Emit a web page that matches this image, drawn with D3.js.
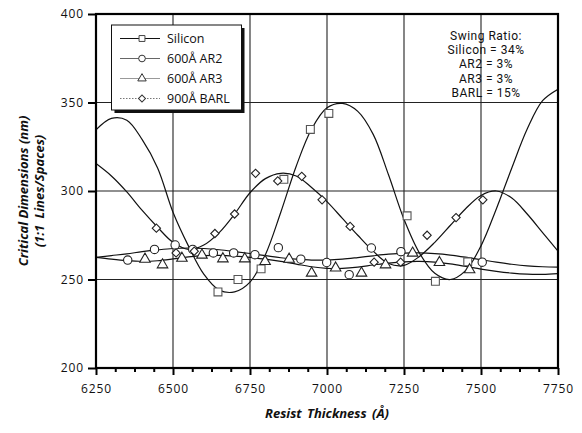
<!DOCTYPE html>
<html>
<head>
<meta charset="utf-8">
<script src="https://cdn.jsdelivr.net/npm/d3@7/dist/d3.min.js"></script>
<style>
  html, body { margin: 0; padding: 0; background: #fff; }
  svg { display: block; font-family: "Open Sans", "Noto Sans", sans-serif; }
</style>
</head>
<body>
<svg id="chart" width="582" height="433"></svg>
<script>
// ---- Measured CD points (resist thickness in Å, CD in nm) ----
const siliconPts = [
  [6646, 243], [6711, 250], [6786, 256], [6860, 306.6], [6946, 334.8],
  [7006, 343.8], [7260, 286], [7352, 249], [7457, 260]
];
const ar2Pts = [
  [6353, 261], [6440, 267], [6507, 269.5], [6564, 267], [6631, 265],
  [6697, 265], [6766, 264], [6842, 268], [6915, 261.5], [6999, 259.6],
  [7072, 252.7], [7144, 267.8], [7240, 265.7], [7504, 259.8]
];
const ar3Pts = [
  [6409, 261.5], [6466, 258.3], [6529, 262], [6594, 263.8], [6662, 261.7],
  [6733, 261.7], [6799, 260.2], [6877, 261.5], [6950, 253.6], [7028, 256.5],
  [7112, 253.6], [7190, 258.3], [7278, 264.9], [7365, 259.6], [7463, 255.5]
];
const barlPts = [
  [6446, 279], [6510, 265], [6569, 266], [6636, 276], [6700, 287],
  [6768, 310], [6840, 305.7], [6918, 308.3], [6984, 295], [7075, 280],
  [7153, 259.8], [7239, 259.8], [7325, 275], [7419, 285], [7506, 295]
];

// ---- Fitted swing curves, sampled every 50 Å from 6250 to 7750 ----
const curveThickness = [
  6250, 6300, 6350, 6400, 6450, 6500, 6550, 6600, 6650, 6700, 6750,
  6800, 6850, 6900, 6950, 7000, 7050, 7100, 7150, 7200, 7250,
  7300, 7350, 7400, 7450, 7500, 7550, 7600, 7650, 7700, 7750
];
const siliconFit = [
  334.5, 341, 340, 329, 313, 288, 269, 253, 244, 243, 248.5,
  264, 288, 314, 335, 347, 349.5, 345, 332, 309, 284,
  265, 253.5, 250, 255, 269, 290, 313, 335, 351, 357.5
];
const ar2Fit = [
  262.5, 263.5, 264.5, 265.7, 266.7, 267.5, 267.8, 267.5, 266.8, 265.8, 264.7,
  263.5, 262.3, 261.5, 261, 261, 261.5, 262.4, 263.4, 264.3, 264.9,
  265, 264.6, 263.8, 262.6, 261.2, 259.8, 258.6, 257.7, 257.2, 257
];
const ar3Fit = [
  262.5, 261.5, 260.7, 260.3, 260.6, 261.6, 262.8, 263.5, 263.6, 263.2, 262.5,
  261.5, 260.2, 258.7, 257.2, 256.3, 256.3, 257, 258.2, 259.3, 260,
  260.2, 259.8, 258.8, 257.4, 255.9, 254.6, 253.6, 253, 252.9, 253.3
];
const barlFit = [
  315.5, 308.5, 299.5, 289, 279.5, 271, 267, 269.5, 276.5, 287, 299,
  307, 310, 308.5, 302, 294, 284.5, 275, 266, 259, 258,
  263, 271, 280.5, 290, 297.5, 300, 296, 287, 276.5, 266
];

// ---- Axis ticks and labels ----
const xTicks = [6250, 6500, 6750, 7000, 7250, 7500, 7750];
const xMinorTicks = d3.range(6250, 7750.1, 62.5).filter(v => !xTicks.includes(v));
const yTicks = [200, 250, 300, 350, 400];
const xGrid = [6500, 6750, 7000, 7250, 7500];
const yGrid = [250, 300, 350];
const seriesNames = ["Silicon", "600Å AR2", "600Å AR3", "900Å BARL"];
const swingLines = ["Swing Ratio:", "Silicon = 34%", "AR2 = 3%", "AR3 = 3%", "BARL = 15%"];

const svg = d3.select("#chart");
const L = 96, R = 558, T = 14, B = 368;

const x = d3.scaleLinear().domain([6250, 7750]).range([L, R]);
const y = d3.scaleLinear().domain([200, 400]).range([B, T]);

svg.append("defs").append("clipPath").attr("id", "plotClip")
  .append("rect").attr("x", L).attr("y", T).attr("width", R - L).attr("height", B - T);

// grid
svg.append("g").selectAll("line").data(xGrid).join("line")
  .attr("x1", d => x(d)).attr("x2", d => x(d)).attr("y1", T).attr("y2", B)
  .attr("stroke", "#222").attr("stroke-width", 1.1);
svg.append("g").selectAll("line").data(yGrid).join("line")
  .attr("y1", d => y(d)).attr("y2", d => y(d)).attr("x1", L).attr("x2", R)
  .attr("stroke", "#222").attr("stroke-width", 1.1);

// axes
const xAxis = svg.append("g").attr("transform", `translate(0,${B})`)
  .call(d3.axisBottom(x).tickValues(xTicks).tickSize(7).tickPadding(9.5).tickFormat(d3.format("d")));
const xMinor = svg.append("g").attr("transform", `translate(0,${B})`)
  .call(d3.axisBottom(x).tickValues(xMinorTicks).tickSize(4).tickFormat(""));
const yAxis = svg.append("g").attr("transform", `translate(${L},0)`)
  .call(d3.axisLeft(y).tickValues(yTicks).tickSize(8).tickPadding(4).tickFormat(d3.format("d")));

[xAxis, xMinor, yAxis].forEach(g => {
  g.select(".domain").remove();
  g.selectAll(".tick line").attr("stroke", "#000").attr("stroke-width", 2);
  g.selectAll(".tick text").attr("fill", "#111").style("font-size", "12px")
    .style("letter-spacing", "0.9px").style("font-family", "'Open Sans', sans-serif");
});

// curves
const lineGen = d3.line().x(d => x(d[0])).y(d => y(d[1])).curve(d3.curveCatmullRom);
const fits = [siliconFit, ar2Fit, ar3Fit, barlFit];
const curves = svg.append("g").attr("clip-path", "url(#plotClip)");
fits.forEach(vals => {
  curves.append("path")
    .datum(curveThickness.map((t, i) => [t, vals[i]]))
    .attr("d", lineGen).attr("fill", "none")
    .attr("stroke", "#111").attr("stroke-width", 1.2);
});

// marker shapes; the diamond is a square turned by 45 degrees
const shapes = {
  square:   { path: d3.symbol().type(d3.symbolSquare).size(62)(),   rot: 0 },
  circle:   { path: d3.symbol().type(d3.symbolCircle).size(55)(),   rot: 0 },
  triangle: { path: d3.symbol().type(d3.symbolTriangle).size(48)(), rot: 0 },
  diamond:  { path: d3.symbol().type(d3.symbolSquare).size(34)(),   rot: 45 }
};
function drawMarkers(g, pts, shape, color) {
  const s = shapes[shape];
  g.selectAll(null).data(pts).join("path")
    .attr("transform", d => `translate(${x(d[0])},${y(d[1])}) rotate(${s.rot})`)
    .attr("d", s.path).attr("fill", "#fff")
    .attr("stroke", color).attr("stroke-width", 1.1);
}
const marks = svg.append("g");
drawMarkers(marks, siliconPts, "square", "#555");
drawMarkers(marks, ar2Pts, "circle", "#222");
drawMarkers(marks, ar3Pts, "triangle", "#222");
drawMarkers(marks, barlPts, "diamond", "#222");

// plot frame
svg.append("rect").attr("x", L).attr("y", T).attr("width", R - L).attr("height", B - T)
  .attr("fill", "none").attr("stroke", "#000").attr("stroke-width", 2.2);

// legend with drop shadow
const lg = svg.append("g");
lg.append("rect").attr("x", 114.5).attr("y", 28).attr("width", 130).attr("height", 85).attr("fill", "#111");
lg.append("rect").attr("x", 111.5).attr("y", 25).attr("width", 130).attr("height", 85)
  .attr("fill", "#fff").attr("stroke", "#111").attr("stroke-width", 1);
const legendStyle = [
  { shape: "square",   stroke: "#111", dash: null,      w: 1.2, mk: "#444", size: 0.75 },
  { shape: "circle",   stroke: "#666", dash: null,      w: 1,   mk: "#333", size: 0.8 },
  { shape: "triangle", stroke: "#999", dash: null,      w: 1,   mk: "#333", size: 0.8 },
  { shape: "diamond",  stroke: "#777", dash: "1.5,1.5", w: 1,   mk: "#333", size: 0.85 }
];
seriesNames.forEach((name, i) => {
  const cy = 38.5 + i * 20;
  const st = legendStyle[i];
  const s = shapes[st.shape];
  lg.append("line").attr("x1", 120).attr("x2", 160).attr("y1", cy).attr("y2", cy)
    .attr("stroke", st.stroke).attr("stroke-width", st.w)
    .attr("stroke-dasharray", st.dash);
  lg.append("path").attr("transform", `translate(142,${cy}) rotate(${s.rot}) scale(${st.size})`)
    .attr("d", s.path).attr("fill", "#fff").attr("stroke", st.mk)
    .attr("stroke-width", 1 / st.size);
  lg.append("text").attr("x", 167).attr("y", cy).attr("dy", "0.36em")
    .style("font-size", "12.5px").attr("fill", "#111").text(name);
});

// swing ratio note, one text per line
svg.append("g").selectAll("text").data(swingLines).join("text")
  .attr("x", 486).attr("y", (d, i) => 40 + i * 14.2)
  .attr("text-anchor", "middle")
  .style("font-family", "Roboto, sans-serif").style("font-size", "12px")
  .style("letter-spacing", "0.5px").attr("fill", "#111")
  .text(d => d);

// axis titles
svg.append("text").attr("x", x(7000)).attr("y", 418).attr("text-anchor", "middle")
  .style("font-size", "13px").style("font-weight", "bold").style("font-style", "italic")
  .style("word-spacing", "2px").attr("fill", "#111").text("Resist Thickness (Å)");
const yt = svg.append("g").attr("transform", `translate(0,${(T + B) / 2}) rotate(-90)`);
yt.append("text").attr("x", 0).attr("y", 28).attr("text-anchor", "middle")
  .style("font-size", "13px").style("font-weight", "bold").style("font-style", "italic")
  .attr("fill", "#111").text("Critical Dimensions (nm)");
yt.append("text").attr("x", 0).attr("y", 44).attr("text-anchor", "middle")
  .style("font-size", "13px").style("font-weight", "bold").style("font-style", "italic")
  .style("word-spacing", "3px").attr("fill", "#111").text("(1:1 Lines/Spaces)");
</script>
</body>
</html>
